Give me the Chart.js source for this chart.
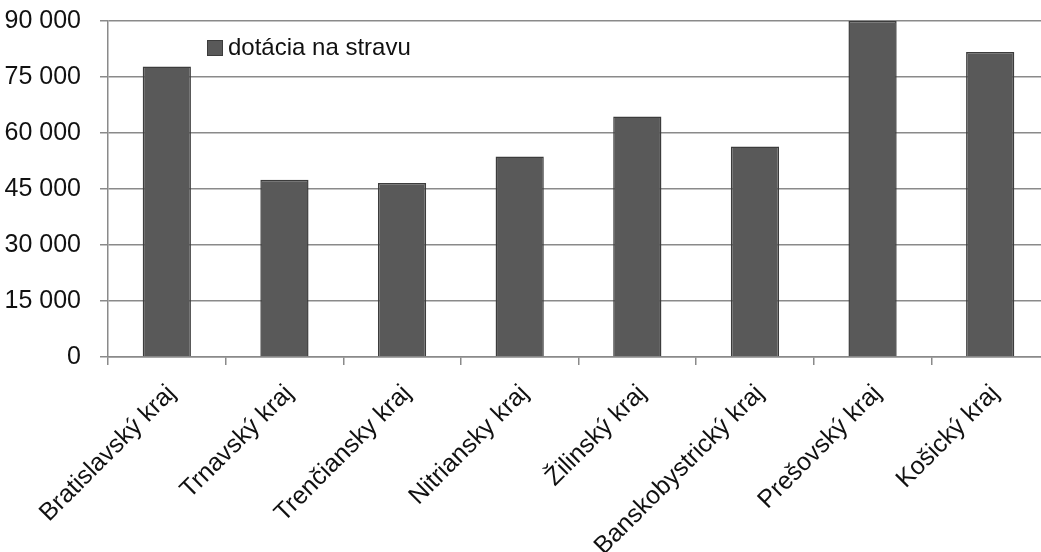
<!DOCTYPE html>
<html>
<head>
<meta charset="utf-8">
<script src="https://cdn.jsdelivr.net/npm/chart.js@4/dist/chart.umd.min.js"></script>
<style>
  html, body { margin: 0; padding: 0; background: #fff; overflow: hidden; }
  #wrap { position: absolute; left: 0; top: 0; width: 1060px; height: 552px; }
</style>
</head>
<body>
<div id="wrap"><canvas id="chart"></canvas></div>
<script>
const categories = [
  "Bratislavský kraj",
  "Trnavský kraj",
  "Trenčiansky kraj",
  "Nitriansky kraj",
  "Žilinský kraj",
  "Banskobystrický kraj",
  "Prešovský kraj",
  "Košický kraj"
];
const seriesLabel = "dotácia na stravu";
const dotacia = [77800, 47500, 46600, 53700, 64400, 56400, 90000, 81700];
const yTicks = [0, 15000, 30000, 45000, 60000, 75000, 90000];

const FONT = "'Liberation Sans', Arial, sans-serif";
const BAR_FILL = "#595959";
const BAR_EDGE = "#3c3c3c";
const AXIS_GREY = "#8a8a8a";

function fmt(v) {
  return String(v).replace(/\B(?=(\d{3})+(?!\d))/g, " ");
}

// legend sits inside the plot, top left
const insideLegend = {
  id: "insideLegend",
  afterDraw(chart) {
    const ctx = chart.ctx;
    const area = chart.chartArea;
    const ds = chart.data.datasets[0];
    const x = area.left + 99;
    const y = area.top + 19;
    ctx.save();
    ctx.fillStyle = ds.backgroundColor;
    ctx.fillRect(x, y, 15, 15);
    ctx.strokeStyle = ds.borderColor;
    ctx.lineWidth = 1;
    ctx.strokeRect(x + 0.5, y + 0.5, 15, 15);
    ctx.fillStyle = "#111";
    ctx.font = "24px " + FONT;
    ctx.textBaseline = "middle";
    ctx.textAlign = "left";
    ctx.fillText(ds.label, x + 21, y + 8);
    ctx.restore();
  }
};

new Chart(document.getElementById("chart"), {
  type: "bar",
  data: {
    labels: categories,
    datasets: [{
      label: seriesLabel,
      data: dotacia,
      backgroundColor: BAR_FILL,
      borderColor: BAR_EDGE,
      borderWidth: 1.5,
      barPercentage: 0.41,
      categoryPercentage: 1
    }]
  },
  options: {
    responsive: true,
    maintainAspectRatio: false,
    animation: false,
    layout: { padding: { top: 21, right: 11, bottom: 0, left: 0 } },
    plugins: {
      legend: { display: false },
      tooltip: { enabled: false }
    },
    scales: {
      x: {
        offset: true,
        afterFit(scale) { scale.height = 195; },
        grid: {
          offset: true,
          drawOnChartArea: false,
          drawTicks: true,
          tickLength: 8,
          color: AXIS_GREY,
          lineWidth: 1.5
        },
        border: { color: AXIS_GREY, width: 1.5 },
        ticks: {
          color: "#111",
          font: { family: FONT, size: 25 },
          minRotation: 45,
          maxRotation: 45,
          autoSkip: false,
          padding: 14,
          labelOffset: 5
        }
      },
      y: {
        min: 0,
        max: 90000,
        afterBuildTicks(scale) { scale.ticks = yTicks.map(v => ({ value: v })); },
        afterFit(scale) {
          scale.width = 108;
          scale.paddingTop = 0;
          scale.paddingBottom = 0;
        },
        grid: {
          color: AXIS_GREY,
          lineWidth: 1.5,
          drawTicks: true,
          tickLength: 8
        },
        border: { color: AXIS_GREY, width: 1.5 },
        ticks: {
          color: "#111",
          font: { family: FONT, size: 25 },
          padding: 19,
          callback: v => fmt(v)
        }
      }
    }
  },
  plugins: [insideLegend]
});
</script>
</body>
</html>
